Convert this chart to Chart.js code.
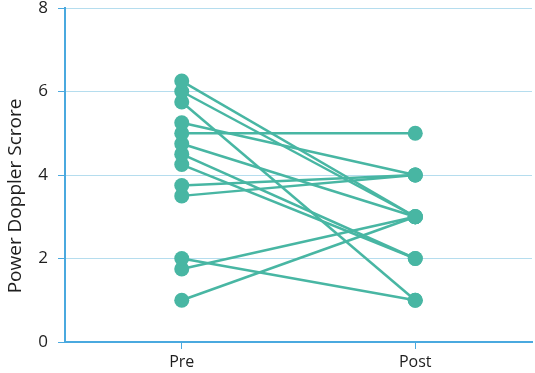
<!DOCTYPE html>
<html>
<head>
<meta charset="utf-8">
<script src="https://cdn.jsdelivr.net/npm/chart.js@4"></script>
<style>
  html, body { margin:0; padding:0; background:#fff; }
  #wrap { width:535px; height:373px; }
</style>
</head>
<body>
<div id="wrap"><canvas id="dopplerChart" width="535" height="373"></canvas></div>
<script>

const categories = ["Pre", "Post"];
const preScores  = [6.25, 6.0, 5.75, 5.25, 5.0, 4.75, 4.5, 4.25, 3.75, 3.5, 2.0, 1.75, 1.0];
const postScores = [3,    3,   1,    4,    5,   3,    2,   2,    4,    4,   1,   3,    3];
const yTicks = [0, 2, 4, 6, 8];
const yTitle = "Power Doppler Scrore";

const teal = "#48b6a3";
const axisBlue = "#4aa9df";
const gridBlue = "#b5ddee";
const textColor = "#1e1e1e";

const datasets = preScores.map((pre, i) => ({
    data: [pre, postScores[i]],
    borderColor: teal,
    backgroundColor: teal,
    borderWidth: 2.5,
    pointRadius: 7.5,
    pointHoverRadius: 7.5,
    pointBorderWidth: 0,
    pointBackgroundColor: teal,
    tension: 0
}));

// y title drawn by hand so it can sit a bit below the middle like the original
const titlePlugin = {
    id: "yTitle",
    afterDraw(chart){
        const c = chart.ctx;
        c.save();
        c.translate(16, 196);
        c.rotate(-Math.PI / 2);
        c.font = "19px 'Open Sans'";
        c.fillStyle = textColor;
        c.textAlign = "center";
        c.textBaseline = "middle";
        c.fillText(yTitle, 0, 0);
        c.restore();
    }
};

const ctx = document.getElementById("dopplerChart").getContext("2d");

new Chart(ctx, {
    type: "line",
    data: {
        labels: categories,
        datasets: datasets
    },
    plugins: [titlePlugin],
    options: {
        responsive: false,
        animation: false,
        layout: { autoPadding: false, padding: { top: 8, right: 3, bottom: 0, left: 0 } },
        plugins: {
            legend: { display: false },
            tooltip: { enabled: false }
        },
        scales: {
            x: {
                type: "category",
                offset: true,
                grid: {
                    offset: false,
                    drawOnChartArea: false,
                    drawTicks: true,
                    tickLength: 7,
                    tickColor: axisBlue
                },
                border: { color: axisBlue, width: 2 },
                ticks: {
                    padding: 4,
                    color: textColor,
                    font: { family: "Open Sans", size: 16 }
                },
                afterFit: scale => {
                    scale.height = 31;
                    scale.paddingLeft = 0;
                    scale.paddingRight = 0;
                }
            },
            y: {
                min: 0,
                max: 8,
                afterBuildTicks: scale => {
                    scale.ticks = yTicks.map(v => ({ value: v }));
                },
                grid: {
                    color: ctx => ctx.tick && ctx.tick.value === 0 ? "rgba(0,0,0,0)" : gridBlue,
                    lineWidth: 1,
                    tickLength: 7,
                    tickColor: axisBlue
                },
                border: { color: axisBlue, width: 2 },
                ticks: {
                    padding: 10,
                    color: textColor,
                    font: { family: "Open Sans", size: 17 }
                },
                afterFit: scale => {
                    scale.width = 65;
                    scale.paddingTop = 0;
                    scale.paddingBottom = 0;
                }
            }
        }
    }
});
</script>
</body>
</html>
